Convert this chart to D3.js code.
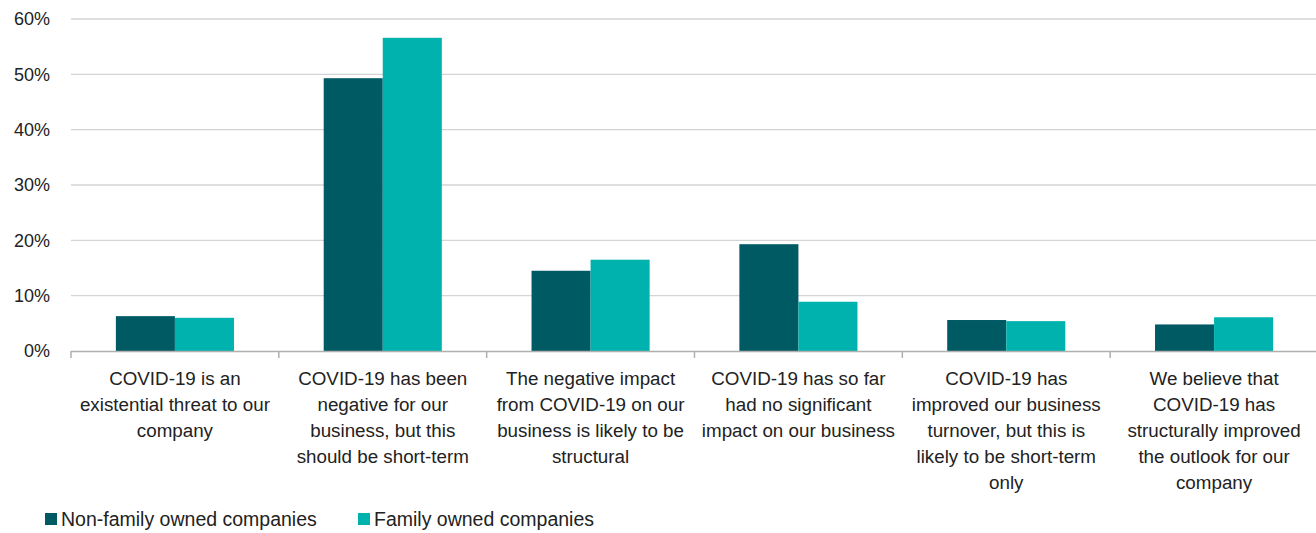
<!DOCTYPE html>
<html><head><meta charset="utf-8">
<script src="https://cdn.jsdelivr.net/npm/d3@7"></script>
<style>body{margin:0;background:#fff;} svg{display:block;} text{font-family:"Liberation Sans",Arial,sans-serif;fill:#222;}</style>
</head><body>
<svg id="c" width="1316" height="533"></svg>
<script>
const categories = [
  ["COVID-19 is an","existential threat to our","company"],
  ["COVID-19 has been","negative for our","business, but this","should be short-term"],
  ["The negative impact","from COVID-19 on our","business is likely to be","structural"],
  ["COVID-19 has so far","had no significant","impact on our business"],
  ["COVID-19 has","improved our business","turnover, but this is","likely to be short-term","only"],
  ["We believe that","COVID-19 has","structurally improved","the outlook for our","company"]
];
const seriesNames = ["Non-family owned companies","Family owned companies"];
const nonFamily = [6.3, 49.3, 14.5, 19.3, 5.6, 4.8];
const family = [6.0, 56.6, 16.5, 8.9, 5.4, 6.1];
const yTicks = [0,10,20,30,40,50,60];
const colors = ["#005a64","#00b2ae"];

(function(){
const svg = d3.select("#c");
const L = 71, R = 1318, T = 19, B = 351;
const x = d3.scaleBand().domain(d3.range(categories.length)).range([L,R]).paddingInner(0).paddingOuter(0);
const x1 = d3.scaleBand().domain([0,1]).range([0,x.bandwidth()]).paddingOuter(0.76).paddingInner(0);
const y = d3.scaleLinear().domain([0,60]).range([B,T]);

svg.append("g").selectAll("line").data(yTicks.filter(d=>d>0)).join("line")
  .attr("x1",L).attr("x2",1316).attr("y1",d=>y(d)).attr("y2",d=>y(d))
  .attr("stroke","#d4d4d4").attr("stroke-width",1.3);

const yAxis = d3.axisLeft(y).tickValues(yTicks).tickFormat(d=>d+"%").tickSize(0).tickPadding(0);
const ya = svg.append("g").attr("transform",`translate(50,0)`).call(yAxis);
ya.select(".domain").remove();
ya.selectAll("text").style("font-size","18px").attr("fill","#222").attr("dy","0.32em")
  .style("font-family",'"Liberation Sans",Arial,sans-serif');

const data = categories.map((c,i)=>[nonFamily[i],family[i]]);
const g = svg.append("g");
data.forEach((vals,i)=>{
  g.selectAll(null).data(vals).join("rect")
    .attr("x",(d,j)=>x(i)+x1(j))
    .attr("width",x1.bandwidth())
    .attr("y",d=>y(d))
    .attr("height",d=>B-y(d))
    .attr("fill",(d,j)=>colors[j]);
});

svg.append("line").attr("x1",L).attr("x2",1316).attr("y1",B+0.5).attr("y2",B+0.5).attr("stroke","#b0b0b0").attr("stroke-width",1.5);
svg.append("g").selectAll("line").data(d3.range(categories.length+1)).join("line")
  .attr("x1",i=>L+i*x.bandwidth()).attr("x2",i=>L+i*x.bandwidth())
  .attr("y1",B).attr("y2",B+7).attr("stroke","#b0b0b0").attr("stroke-width",1.5);

categories.forEach((lines,i)=>{
  const t = svg.append("text").attr("text-anchor","middle").style("font-size","18.8px");
  lines.forEach((ln,k)=>{
    t.append("tspan").attr("x",x(i)+x.bandwidth()/2).attr("y",385+k*26).text(ln);
  });
});

const legX = [45,358];
seriesNames.forEach((n,i)=>{
  svg.append("rect").attr("x",legX[i]).attr("y",513).attr("width",12).attr("height",12).attr("fill",colors[i]);
  svg.append("text").attr("x",legX[i]+16).attr("y",526).style("font-size","19.5px").text(n);
});
})();
</script>
</body></html>
